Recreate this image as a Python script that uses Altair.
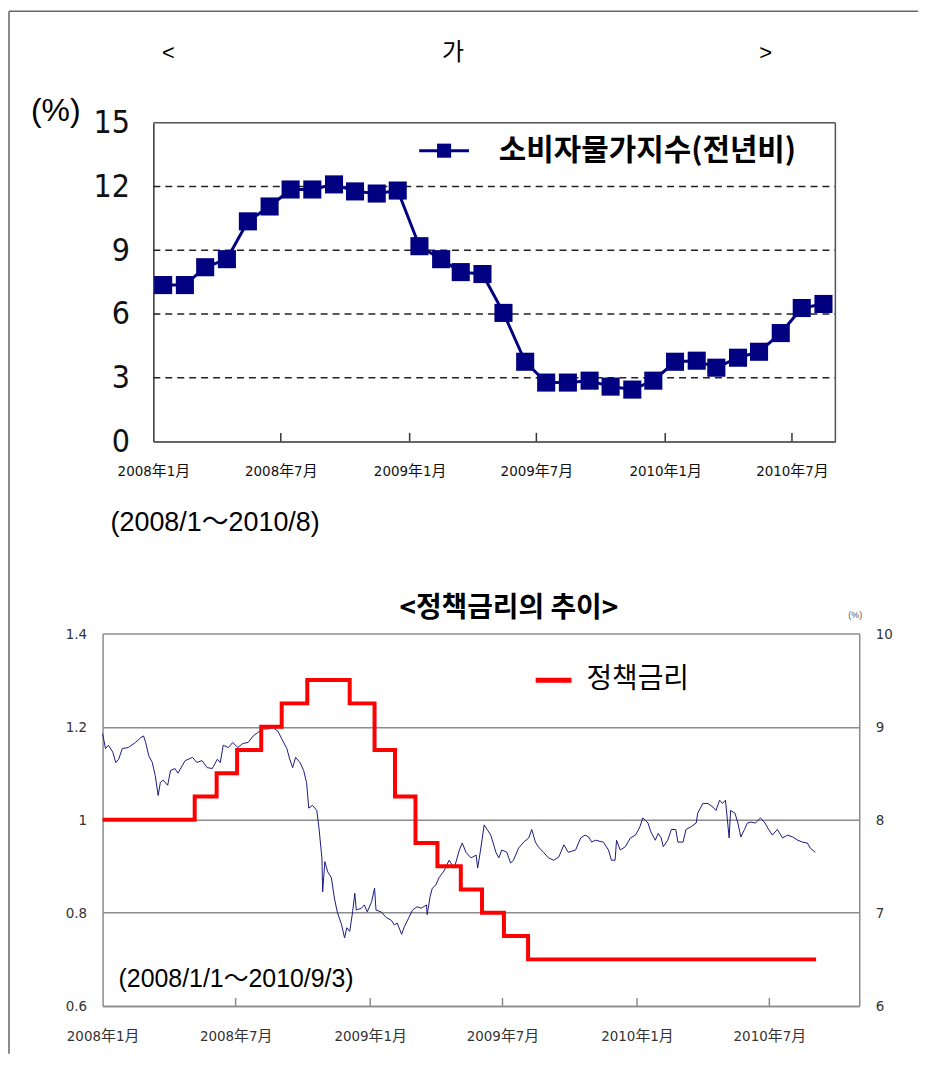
import altair as alt
import pandas as pd

# ---------------- data ----------------
# Top chart: consumer price index, year-on-year (%), monthly 2008/1 - 2010/8
cpi_months = ["2008-01", "2008-02", "2008-03", "2008-04", "2008-05", "2008-06",
              "2008-07", "2008-08", "2008-09", "2008-10", "2008-11", "2008-12",
              "2009-01", "2009-02", "2009-03", "2009-04", "2009-05", "2009-06",
              "2009-07", "2009-08", "2009-09", "2009-10", "2009-11", "2009-12",
              "2010-01", "2010-02", "2010-03", "2010-04", "2010-05", "2010-06",
              "2010-07", "2010-08"]
cpi_values = [7.36, 7.36, 8.2, 8.58, 10.36, 11.06, 11.86, 11.86, 12.1, 11.77, 11.67, 11.81,
              9.19, 8.58, 7.97, 7.88, 6.05, 3.75, 2.77, 2.77, 2.86, 2.58, 2.44, 2.86,
              3.75, 3.8, 3.47, 3.94, 4.22, 5.1, 6.28, 6.47]
top_ticks = ["2008-01-01", "2008-07-01", "2009-01-01", "2009-07-01", "2010-01-01", "2010-07-01"]
top_grid = [3, 6, 9, 12]
top_start, top_end = "2008-01-01", "2010-09-01"

# Bottom chart: exchange-rate style series (left axis), days since 2008-01-01
blue_day = [0, 4, 8, 14, 18, 22, 27, 35, 45, 52,
            56, 59, 63, 68, 72, 76, 79, 83, 89, 93,
            99, 103, 113, 123, 129, 136, 143, 150, 157, 161,
            165, 172, 178, 185, 192, 199, 206, 212, 219, 226,
            233, 240, 245, 252, 256, 260, 264, 270, 275, 279,
            282, 287, 293, 296, 300, 301, 304, 308, 313, 317,
            321, 327, 331, 334, 338, 342, 345, 347, 354, 358,
            362, 368, 372, 374, 381, 388, 395, 399, 403, 409,
            413, 419, 424, 430, 436, 443, 444, 448, 451, 456,
            460, 467, 474, 481, 488, 492, 497, 504, 511, 513,
            517, 522, 526, 531, 538, 542, 546, 553, 558, 562,
            569, 576, 583, 587, 592, 596, 603, 610, 617, 624,
            631, 637, 647, 654, 660, 665, 669, 674, 685, 692,
            696, 701, 703, 708, 715, 722, 729, 735, 739, 746,
            750, 756, 760, 764, 767, 773, 778, 784, 787, 794,
            798, 805, 812, 814, 821, 828, 835, 839, 844, 848,
            852, 857, 859, 865, 869, 873, 878, 882, 887, 893,
            900, 906, 910, 916, 923, 930, 937, 944, 951, 957,
            964, 968, 975]
blue_val = [1.185, 1.153, 1.16, 1.145, 1.123, 1.13, 1.153, 1.155, 1.166, 1.176,
            1.18, 1.166, 1.138, 1.123, 1.095, 1.052, 1.08, 1.085, 1.074, 1.106,
            1.11, 1.1, 1.127, 1.134, 1.123, 1.127, 1.112, 1.11, 1.13, 1.123,
            1.16, 1.155, 1.166, 1.155, 1.164, 1.166, 1.18, 1.187, 1.195, 1.195,
            1.198, 1.19, 1.174, 1.153, 1.13, 1.112, 1.134, 1.123, 1.106, 1.08,
            1.025, 1.031, 1.02, 0.982, 0.918, 0.845, 0.91, 0.888, 0.875, 0.832,
            0.802, 0.774, 0.746, 0.768, 0.76, 0.802, 0.842, 0.806, 0.81, 0.817,
            0.802, 0.824, 0.853, 0.806, 0.802, 0.79, 0.784, 0.774, 0.778, 0.754,
            0.771, 0.79, 0.806, 0.813, 0.81, 0.817, 0.796, 0.835, 0.853, 0.86,
            0.875, 0.89, 0.913, 0.896, 0.935, 0.95, 0.93, 0.918, 0.924, 0.896,
            0.935, 0.989, 0.979, 0.967, 0.93, 0.918, 0.935, 0.93, 0.907, 0.913,
            0.939, 0.952, 0.961, 0.979, 0.952, 0.942, 0.93, 0.918, 0.913, 0.92,
            0.946, 0.93, 0.935, 0.961, 0.967, 0.963, 0.952, 0.956, 0.952, 0.935,
            0.913, 0.913, 0.956, 0.935, 0.942, 0.961, 0.967, 0.985, 1.004, 0.993,
            0.974, 0.956, 0.971, 0.961, 0.942, 0.956, 0.979, 0.979, 0.952, 0.952,
            0.979, 0.985, 0.993, 1.014, 1.035, 1.035, 1.027, 1.02, 1.042, 1.035,
            1.042, 0.961, 1.02, 1.014, 0.993, 0.963, 0.979, 0.993, 0.995, 0.993,
            1.004, 0.993, 0.982, 0.967, 0.979, 0.961, 0.967, 0.963, 0.956, 0.952,
            0.95, 0.939, 0.93]

# Policy rate (%), right axis, step changes
rate_dates = ["2008-01-01", "2008-05-06", "2008-06-05", "2008-07-03", "2008-08-05",
              "2008-09-02", "2008-10-07", "2008-12-04", "2009-01-07", "2009-02-04",
              "2009-03-04", "2009-04-03", "2009-05-05", "2009-06-03", "2009-07-03",
              "2009-08-05", "2010-09-03"]
rate_vals = [8.0, 8.25, 8.5, 8.75, 9.0, 9.25, 9.5, 9.25, 8.75, 8.25,
             7.75, 7.5, 7.25, 7.0, 6.75, 6.5, 6.5]
bot_start, bot_end = "2008-01-01", "2010-11-01"
bot_ticks = top_ticks

# ---------------- helpers ----------------
NARROW = "Liberation Sans Narrow, DejaVu Sans Condensed, Noto Sans CJK KR, sans-serif"
SANS = "Liberation Sans, Noto Sans CJK KR, sans-serif"
KR = "Noto Sans CJK KR, sans-serif"
NAVY = "#000080"
one = pd.DataFrame({"k": [0]})
LABEL_EXPR = "utcFormat(datum.value, '%Y') + '年' + (utcmonth(datum.value) + 1) + '月'"


def dt(s):
    y, m, d = (int(p) for p in s.split("-"))
    return alt.DateTime(year=y, month=m, date=d, utc=True)


def note(text, x, y, size, font=KR, weight="normal", align="center", color="#000"):
    return alt.Chart(one).mark_text(text=text, font=font, fontSize=size, fontWeight=weight,
                                    align=align, baseline="middle", color=color).encode(
        x=alt.value(x), y=alt.value(y))


def hline(x1, x2, y, color, width):
    return alt.Chart(one).mark_rule(color=color, strokeWidth=width).encode(
        x=alt.value(x1), x2=alt.value(x2), y=alt.value(y))


def vline(x, y1, y2, color, width):
    return alt.Chart(one).mark_rule(color=color, strokeWidth=width).encode(
        x=alt.value(x), y=alt.value(y1), y2=alt.value(y2))


# ---------------- top chart ----------------
X_top = alt.X("date:T",
              scale=alt.Scale(type="utc", domain=[dt(top_start), dt(top_end)], range=[51, 736]),
              axis=alt.Axis(values=[dt(s) for s in top_ticks], labelExpr=LABEL_EXPR,
                            labelFlush=False, labelOverlap=False, labelFont=NARROW,
                            labelFontSize=15, labelColor="#111", labelPadding=22,
                            ticks=False, tickSize=0, domainColor="#333", domainWidth=1.5,
                            grid=False, title=None))
Y_top = alt.Y("v:Q", scale=alt.Scale(domain=[0, 15], nice=False),
              axis=alt.Axis(values=[0, 3, 6, 9, 12, 15], offset=-51, labelFont=NARROW,
                            labelFontSize=32, labelColor="#111", labelPadding=24,
                            ticks=False, tickSize=0, domainColor="#333", domainWidth=1.5,
                            grid=False, title=None))

cpi_df = pd.DataFrame({"date": [m + "-15" for m in cpi_months], "v": cpi_values})
grid_df = pd.DataFrame({"date": top_start, "date2": top_end, "v": top_grid})
ftop_df = pd.DataFrame({"date": [top_start], "date2": [top_end], "v": [15]})
fright_df = pd.DataFrame({"date": [top_end], "v": [0], "v2": [15]})
tick_df = pd.DataFrame({"date": top_ticks[1:], "v": 0, "v2": 0.4})

top_layers = [
    alt.Chart(grid_df).mark_rule(color="#222", strokeWidth=1.5, strokeDash=[7, 5]).encode(
        x=X_top, x2="date2", y=Y_top),
    alt.Chart(ftop_df).mark_rule(color="#555", strokeWidth=1.5).encode(x=X_top, x2="date2", y=Y_top),
    alt.Chart(fright_df).mark_rule(color="#555", strokeWidth=1.5).encode(x=X_top, y=Y_top, y2="v2"),
    alt.Chart(tick_df).mark_rule(color="#333", strokeWidth=1.5).encode(x=X_top, y=Y_top, y2="v2"),
    alt.Chart(cpi_df).mark_line(color=NAVY, strokeWidth=3).encode(x=X_top, y=Y_top),
    alt.Chart(cpi_df).mark_square(size=330, color=NAVY, opacity=1).encode(x=X_top, y=Y_top),
    # legend
    hline(318, 368, 28, NAVY, 3),
    alt.Chart(one).mark_square(size=200, color=NAVY, opacity=1).encode(x=alt.value(343), y=alt.value(28)),
    note("소비자물가지수(전년비)", 398, 28, 30, weight="bold", align="left"),
    # titles / notes
    note("<", 66, -70, 22, font=SANS),
    note("가", 352, -70, 24),
    note(">", 666, -70, 22, font=SANS),
    note("(%)", -47, -12, 32, font=SANS),
    note("(2008/1～2010/8)", 8, 402, 27, font=SANS, align="left"),
    # page frame
    hline(-94, 819, -112, "#666", 1.5),
    vline(-94, -112, 935, "#666", 1.5),
]
top = alt.layer(*top_layers).properties(width=737, height=320)

# ---------------- bottom chart ----------------
X_bot = alt.X("date:T",
              scale=alt.Scale(type="utc", domain=[dt(bot_start), dt(bot_end)]),
              axis=alt.Axis(values=[dt(s) for s in bot_ticks], labelExpr=LABEL_EXPR,
                            labelFlush=False, labelOverlap=False, labelFont=NARROW,
                            labelFontSize=15, labelColor="#333", labelPadding=23,
                            ticks=False, tickSize=0, domainColor="#8c8c8c", domainWidth=1.5,
                            grid=False, title=None))
Y_left = alt.Y("v:Q", scale=alt.Scale(domain=[0.6, 1.4], nice=False, zero=False),
               axis=alt.Axis(orient="left", values=[0.6, 0.8, 1.0, 1.2, 1.4],
                             labelExpr="'' + datum.value", grid=True, gridColor="#8c8c8c",
                             gridWidth=1.5, ticks=False, tickSize=0, labelPadding=16,
                             labelFont=NARROW, labelFontSize=15, labelColor="#333",
                             domainColor="#8c8c8c", domainWidth=1.5, title=None))
Y_right = alt.Y("r:Q", scale=alt.Scale(domain=[6, 10], nice=False, zero=False),
                axis=alt.Axis(orient="right", values=[6, 7, 8, 9, 10], grid=False,
                              ticks=False, tickSize=0, labelPadding=16, labelFont=NARROW,
                              labelFontSize=15, labelColor="#333",
                              domainColor="#8c8c8c", domainWidth=1.5, title=None))

base_day = pd.Timestamp("2008-01-01")
blue_df = pd.DataFrame({
    "date": (base_day + pd.to_timedelta(blue_day, unit="D")).strftime("%Y-%m-%d"),
    "v": blue_val})
rate_df = pd.DataFrame({"date": rate_dates, "r": rate_vals})
btick_df = pd.DataFrame({"date": bot_ticks[1:]})

blue = alt.Chart(blue_df).mark_line(color="#1a1a80", strokeWidth=1).encode(x=X_bot, y=Y_left)
red = alt.Chart(rate_df).mark_line(color="#ff0000", strokeWidth=4, interpolate="step-after").encode(
    x=X_bot, y=Y_right)
bot_ticks_layer = alt.Chart(btick_df).mark_rule(color="#8c8c8c", strokeWidth=1.5).encode(
    x=X_bot, y=alt.value(374), y2=alt.value(366))

bottom = alt.layer(
    blue, red, bot_ticks_layer,
    note("<정책금리의 추이>", 408, -25, 28, weight="bold"),
    note("(%)", 756, -19, 9, font=SANS, color="#555"),
    hline(435, 471, 47, "#ff0000", 5),
    note("정책금리", 486, 47, 28, align="left"),
    note("(2008/1/1～2010/9/3)", 16, 347, 25, font=SANS, align="left"),
).resolve_scale(y="independent").properties(width=760, height=374)

chart = alt.vconcat(top, bottom, spacing=193, bounds="flush").properties(
    padding=0).configure_view(strokeWidth=0)

chart.save("out.html", embed_options={"renderer": "svg", "actions": False})
